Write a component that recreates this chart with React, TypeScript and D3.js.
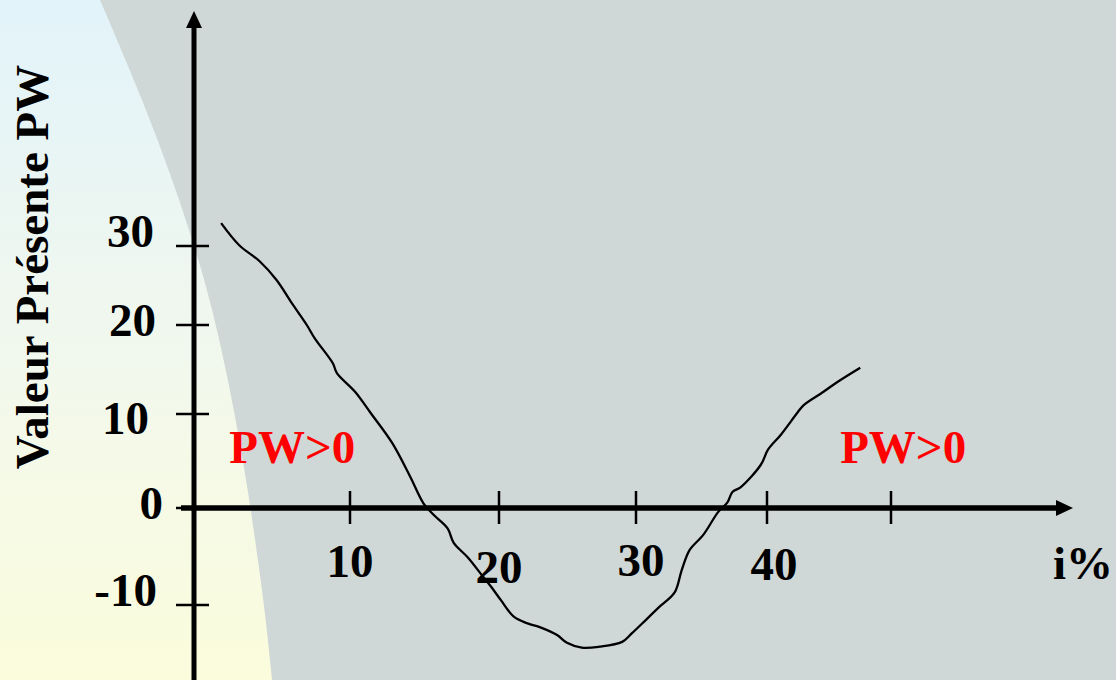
import React from "react";
import * as d3 from "d3";

// ---- data ----
const xTickValues = [10, 20, 30, 40, 50];
const xTickLabels = ["10", "20", "30", "40", ""];
const yTickValues = [30, 20, 10, 0, -10];
const yTickLabels = ["30", "20", "10", "0", "-10"];

// interest rate i% and present value PW
const rateValues = [
  1.74, 2.9, 4.19, 5.29, 6.26, 7.23, 7.74, 8.9, 9.16, 10.34, 11.35, 12.84, 14.05, 14.93,
  15.61, 16.55, 16.96, 17.91, 18.99, 19.46, 20.14, 21.08, 22.09, 23.02, 24.24, 24.96,
  26.04, 27.34, 28.99, 29.71, 30.78, 31.78, 32.95, 33.49, 34.11, 35.12, 36.28, 36.98,
  37.36, 37.98, 39.53, 40.08, 41.12, 42.48, 42.96, 44.56, 45.68, 47.52,
];
const pwValues = [
  32.9, 30.1, 28.1, 25.7, 22.8, 20.0, 18.5, 15.7, 14.6, 12.5, 10.2, 6.9, 3.3, 0.5,
  -0.7, -2.1, -3.6, -5.1, -7.2, -8.1, -9.5, -11.2, -11.9, -12.3, -13.1, -13.9,
  -14.4, -14.3, -13.8, -12.9, -11.5, -10.2, -8.7, -6.4, -4.3, -2.8, -0.4, 0.6,
  1.7, 2.2, 4.6, 6.2, 7.8, 10.2, 11.0, 12.5, 13.6, 15.2,
];

const annotationTexts = ["PW>0", "PW>0"];
const annotationRates = [2.26, 45.9];
const annotationPW = [4.8, 4.8];

const yAxisTitle = "Valeur Présente PW";
const xAxisTitle = "i%";

// ---- layout ----
const W = 1116;
const H = 680;
const FONT = "'Liberation Serif', 'Times New Roman', Times, serif";

// hand-drawn axes: uneven tick spacing reproduced with piecewise-linear scales
const x = d3.scaleLinear().domain([0, 10, 20, 30, 40, 50]).range([194, 350, 499, 636, 767, 891]);
const y = d3.scaleLinear().domain([-10, 0, 10, 20, 30]).range([605, 508, 414, 325, 246]);

// small per-label nudges (hand-lettered placement)
const yLabelNudge = [
  { dx: -40, dy: 1 },
  { dx: -38, dy: 11 },
  { dx: -45, dy: 20 },
  { dx: -31, dy: 11 },
  { dx: -37, dy: 1 },
];
const xLabelNudge = [
  { dx: 0, dy: 69 },
  { dx: 0, dy: 75 },
  { dx: 5, dy: 68 },
  { dx: 7, dy: 72 },
  { dx: 0, dy: 0 },
];

// decorative background swoosh (not data)
const bgBoundary: [number, number][] = [
  [100, 0],
  [143, 100],
  [180, 200],
  [205, 280],
  [222, 350],
  [236, 420],
  [248, 490],
  [258, 560],
  [266, 620],
  [272, 680],
];

export default function App() {
  const points: [number, number][] = rateValues.map((r, i) => [r, pwValues[i]]);
  const line = d3
    .line<[number, number]>()
    .x((d) => x(d[0]))
    .y((d) => y(d[1]))
    .curve(d3.curveCatmullRom.alpha(0.5));

  const boundary = d3.line().curve(d3.curveBasis)(bgBoundary) || "";
  const bgPath = `M0,0 ${boundary.replace(/^M/, "L")} L0,680 Z`;

  const y0 = y(0);
  const xAxisStart = 181;
  const xAxisEnd = 1058;
  const yAxisX = x(0);

  return (
    <svg
      width={W}
      height={H}
      viewBox={`0 0 ${W} ${H}`}
      style={{ position: "fixed", left: 0, top: 0, display: "block" }}
      fontFamily={FONT}
    >
      <defs>
        <linearGradient id="leftGrad" x1="0" y1="0" x2="0" y2="1">
          <stop offset="0%" stopColor="#E2F3FA" />
          <stop offset="55%" stopColor="#F2F8EC" />
          <stop offset="100%" stopColor="#FBFCDC" />
        </linearGradient>
      </defs>
      <rect x={0} y={0} width={W} height={H} fill="#CFD8D6" />
      <path d={bgPath} fill="url(#leftGrad)" />

      {/* y axis */}
      <line x1={yAxisX} x2={yAxisX} y1={26} y2={H} stroke="#000" strokeWidth={5} />
      <path d={`M${yAxisX},11 L${yAxisX - 8},28 L${yAxisX + 8},28 Z`} fill="#000" />
      {yTickValues.map((v, i) => (
        <g key={"yt" + i}>
          <line x1={176} x2={209} y1={y(v)} y2={y(v)} stroke="#000" strokeWidth={2.5} />
          <text
            x={yAxisX + yLabelNudge[i].dx}
            y={y(v) + yLabelNudge[i].dy}
            textAnchor="end"
            fontSize={47}
            fontWeight="bold"
            fill="#000"
          >
            {yTickLabels[i]}
          </text>
        </g>
      ))}

      {/* x axis */}
      <line x1={xAxisStart} x2={xAxisEnd} y1={y0} y2={y0} stroke="#000" strokeWidth={5.5} />
      <path d={`M1073,${y0} L1056,${y0 - 8} L1056,${y0 + 8} Z`} fill="#000" />
      {xTickValues.map((v, i) => (
        <g key={"xt" + i}>
          <line x1={x(v)} x2={x(v)} y1={y0 - 17} y2={y0 + 16} stroke="#000" strokeWidth={2.5} />
          {xTickLabels[i] && (
            <text
              x={x(v) + xLabelNudge[i].dx}
              y={y0 + xLabelNudge[i].dy}
              textAnchor="middle"
              fontSize={47}
              fontWeight="bold"
              fill="#000"
            >
              {xTickLabels[i]}
            </text>
          )}
        </g>
      ))}
      <text x={1083} y={579} textAnchor="middle" fontSize={47} fontWeight="bold" fill="#000">
        {xAxisTitle}
      </text>

      {/* y axis title */}
      <text
        transform={`translate(48,267) rotate(-90)`}
        textAnchor="middle"
        fontSize={47}
        fontWeight="bold"
        fill="#000"
      >
        {yAxisTitle}
      </text>

      {/* annotations */}
      {annotationTexts.map((t, i) => (
        <text
          key={"an" + i}
          x={x(annotationRates[i])}
          y={y(annotationPW[i])}
          fontSize={47}
          fontWeight="bold"
          fill="#FF0000"
        >
          {t}
        </text>
      ))}

      {/* PW curve */}
      <path d={line(points) || ""} fill="none" stroke="#000" strokeWidth={2.3} strokeLinejoin="round" />
    </svg>
  );
}
